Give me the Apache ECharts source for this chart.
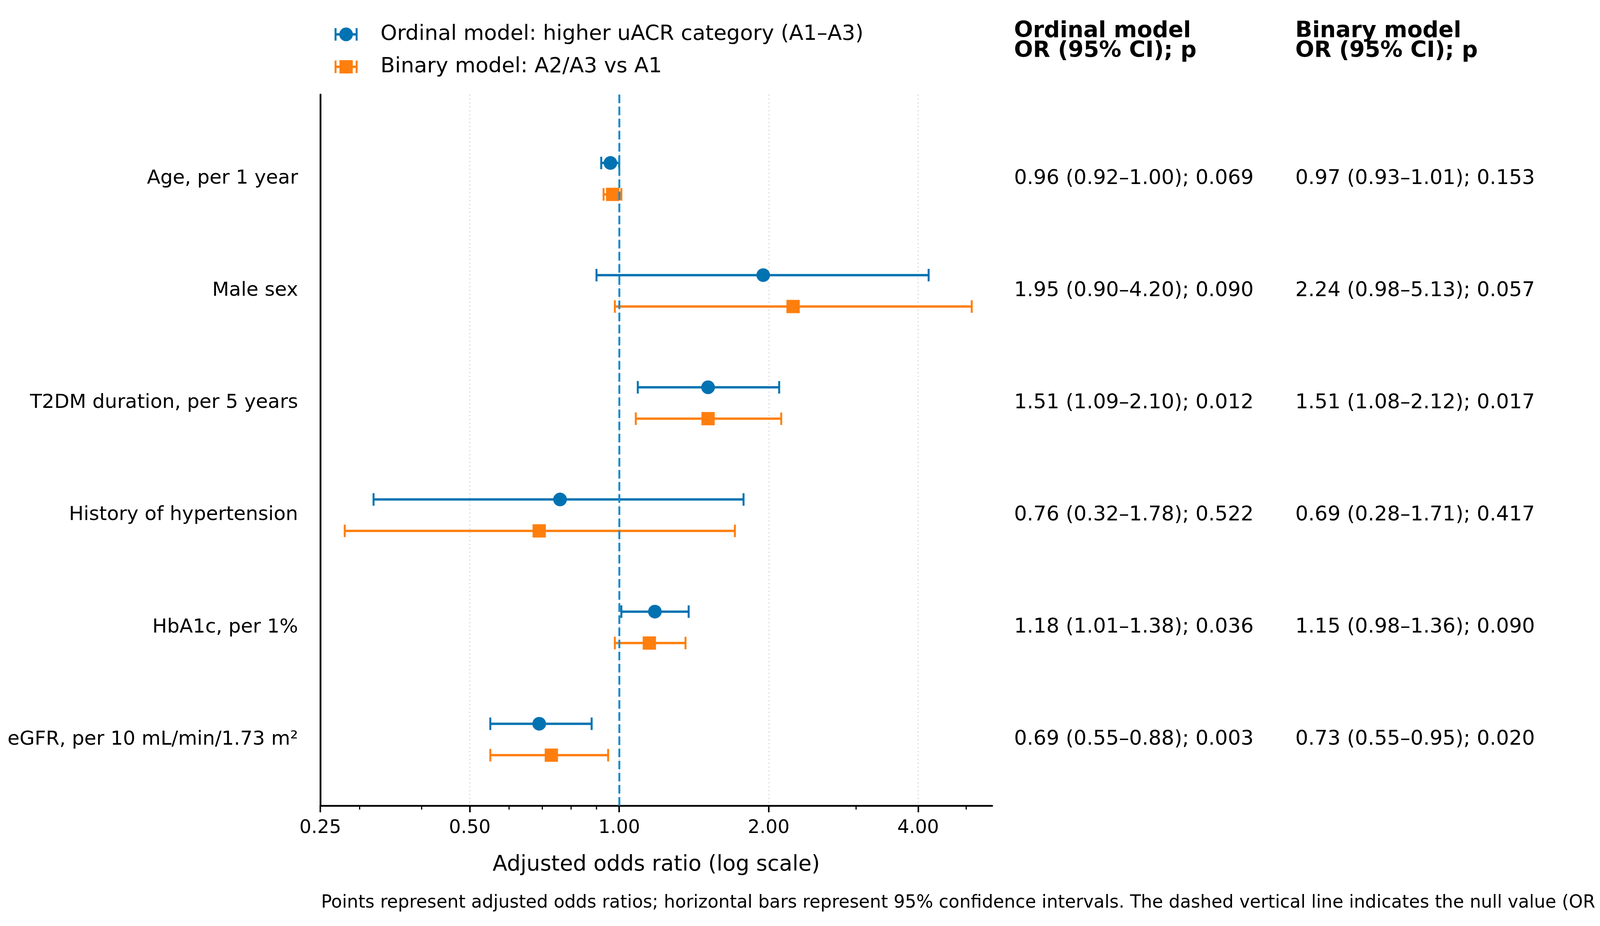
<!DOCTYPE html>
<html>
<head>
<meta charset="utf-8">
<title>Adjusted odds ratios for higher uACR category</title>
<script src="https://cdn.jsdelivr.net/npm/echarts@6/dist/echarts.min.js"></script>
<style>
html, body { margin: 0; padding: 0; background: #fff; }
#chart { width: 4320px; height: 2370px; }
</style>
</head>
<body>
<div id="chart"></div>
<script>
// rows, top to bottom
var categories = ['Age, per 1 year', 'Male sex', 'T2DM duration, per 5 years',
	'History of hypertension', 'HbA1c, per 1%', 'eGFR, per 10 mL/min/1.73 m²'];

var ordinalOR = [0.96, 1.95, 1.51, 0.76, 1.18, 0.69];
var ordinalLow = [0.92, 0.90, 1.09, 0.32, 1.01, 0.55];
var ordinalHigh = [1.00, 4.20, 2.10, 1.78, 1.38, 0.88];
var ordinalP = [0.069, 0.090, 0.012, 0.522, 0.036, 0.003];

var binaryOR = [0.97, 2.24, 1.51, 0.69, 1.15, 0.73];
var binaryLow = [0.93, 0.98, 1.08, 0.28, 0.98, 0.55];
var binaryHigh = [1.01, 5.13, 2.12, 1.71, 1.36, 0.95];
var binaryP = [0.153, 0.057, 0.017, 0.417, 0.090, 0.020];

var majorTicks = [0.25, 0.5, 1, 2, 4];
var minorTicks = [0.3, 0.4, 0.6, 0.7, 0.8, 0.9, 3, 5];
var nullValue = 1;

var BLUE = '#0072B2';
var ORANGE = '#FF7F0E';
var FONT = 'DejaVu Sans';
var Y_MIN = -0.75, Y_MAX = 5.59;

function fmtRow(or, lo, hi, p) {
	return or.toFixed(2) + ' (' + lo.toFixed(2) + '–' + hi.toFixed(2) + '); ' + p.toFixed(3);
}

function buildData(or, lo, hi) {
	var out = [];
	for (var i = 0; i < or.length; i++) {
		out.push([or[i], lo[i], hi[i], i]);
	}
	return out;
}

function errorBarItem(offset, marker, color) {
	return function (params, api) {
		var row = api.value(3) + offset;
		var lo = api.coord([api.value(1), row]);
		var hi = api.coord([api.value(2), row]);
		var mid = api.coord([api.value(0), row]);
		var capH = 16;
		var kids = [
			{ type: 'line', shape: { x1: lo[0], y1: lo[1], x2: hi[0], y2: hi[1] }, style: { stroke: color, lineWidth: 6 } },
			{ type: 'line', shape: { x1: lo[0], y1: lo[1] - capH, x2: lo[0], y2: lo[1] + capH }, style: { stroke: color, lineWidth: 5 } },
			{ type: 'line', shape: { x1: hi[0], y1: hi[1] - capH, x2: hi[0], y2: hi[1] + capH }, style: { stroke: color, lineWidth: 5 } }
		];
		if (marker === 'circle') {
			kids.push({ type: 'circle', shape: { cx: mid[0], cy: mid[1], r: 17.5 }, style: { fill: color } });
		} else {
			kids.push({ type: 'rect', shape: { x: mid[0] - 17, y: mid[1] - 17, width: 34, height: 34 }, style: { fill: color } });
		}
		return { type: 'group', children: kids };
	};
}

function legendEntry(y, marker, color, label) {
	var kids = [
		{ type: 'line', shape: { x1: 857, y1: y, x2: 915, y2: y }, style: { stroke: color, lineWidth: 6 } },
		{ type: 'line', shape: { x1: 859, y1: y - 16, x2: 859, y2: y + 16 }, style: { stroke: color, lineWidth: 5 } },
		{ type: 'line', shape: { x1: 913, y1: y - 16, x2: 913, y2: y + 16 }, style: { stroke: color, lineWidth: 5 } }
	];
	if (marker === 'circle') {
		kids.push({ type: 'circle', shape: { cx: 886, cy: y, r: 17.5 }, style: { fill: color } });
	} else {
		kids.push({ type: 'rect', shape: { x: 869, y: y - 17, width: 34, height: 34 }, style: { fill: color } });
	}
	kids.push({ type: 'text', x: 974, y: y, style: { text: label, font: '54px "' + FONT + '"', fill: '#000', verticalAlign: 'middle' } });
	return { type: 'group', children: kids };
}

var myChart = echarts.init(document.getElementById('chart'));

var option = {
	backgroundColor: '#fff',
	animation: false,
	textStyle: { fontFamily: FONT },
	grid: { left: 820, right: 1780, top: 242, bottom: 308, containLabel: false, outerBoundsMode: 'none' },
	xAxis: {
		type: 'log',
		logBase: 2,
		min: 0.25,
		max: 5.64,
		name: 'Adjusted odds ratio (log scale)',
		nameLocation: 'middle',
		nameGap: 124,
		nameTextStyle: { fontSize: 55, color: '#000', fontFamily: FONT },
		axisLine: { show: true, onZero: false, lineStyle: { color: '#000', width: 4.5 } },
		axisTick: { show: true, customValues: majorTicks, length: 17, lineStyle: { color: '#000', width: 4 } },
		axisLabel: {
			customValues: majorTicks,
			margin: 34,
			fontSize: 48,
			color: '#000',
			fontFamily: FONT,
			formatter: function (v) { return Number(v).toFixed(2); }
		},
		splitLine: { show: true, lineStyle: { color: '#d9d9d9', width: 3, type: [3, 7] } }
	},
	yAxis: {
		type: 'value',
		inverse: true,
		min: Y_MIN,
		max: Y_MAX,
		axisLine: { show: true, onZero: false, lineStyle: { color: '#000', width: 4.5 } },
		axisTick: { show: false },
		splitLine: { show: false },
		axisLabel: {
			customValues: [0, 1, 2, 3, 4, 5],
			margin: 57,
			fontSize: 50,
			color: '#000',
			fontFamily: FONT,
			formatter: function (v) { return categories[Math.round(v)] || ''; }
		}
	},
	graphic: [
		legendEntry(88, 'circle', BLUE, 'Ordinal model: higher uACR category (A1–A3)'),
		legendEntry(171, 'square', ORANGE, 'Binary model: A2/A3 vs A1'),
		{ type: 'text', x: 2596, y: 80, style: { text: 'Ordinal model', font: 'bold 57px "' + FONT + '"', fill: '#000', verticalAlign: 'middle' } },
		{ type: 'text', x: 2596, y: 131, style: { text: 'OR (95% CI); p', font: 'bold 57px "' + FONT + '"', fill: '#000', verticalAlign: 'middle' } },
		{ type: 'text', x: 3316, y: 80, style: { text: 'Binary model', font: 'bold 57px "' + FONT + '"', fill: '#000', verticalAlign: 'middle' } },
		{ type: 'text', x: 3316, y: 131, style: { text: 'OR (95% CI); p', font: 'bold 57px "' + FONT + '"', fill: '#000', verticalAlign: 'middle' } },
		{ type: 'text', x: 822, y: 2311, style: {
			text: 'Points represent adjusted odds ratios; horizontal bars represent 95% confidence intervals. The dashed vertical line indicates the null value (OR = 1).',
			font: '45.5px "' + FONT + '"', fill: '#000', verticalAlign: 'middle' } }
	],
	series: [
		{
			name: 'Ordinal model: higher uACR category (A1–A3)',
			type: 'custom',
			clip: false,
			renderItem: errorBarItem(-0.14, 'circle', BLUE),
			encode: { x: [0, 1, 2], y: 3 },
			data: buildData(ordinalOR, ordinalLow, ordinalHigh),
			z: 3,
			markLine: {
				silent: true,
				symbol: 'none',
				label: { show: false },
				lineStyle: { color: '#1a8ccc', width: 5, type: [22, 9] },
				data: [{ xAxis: nullValue }]
			}
		},
		{
			name: 'Binary model: A2/A3 vs A1',
			type: 'custom',
			clip: false,
			renderItem: errorBarItem(0.14, 'square', ORANGE),
			encode: { x: [0, 1, 2], y: 3 },
			data: buildData(binaryOR, binaryLow, binaryHigh),
			z: 3
		},
		{
			// minor ticks of the log axis
			name: 'minor ticks',
			type: 'custom',
			clip: false,
			silent: true,
			renderItem: function (params, api) {
				var p = api.coord([api.value(0), Y_MAX]);
				return { type: 'line', shape: { x1: p[0], y1: p[1], x2: p[0], y2: p[1] + 10 }, style: { stroke: '#000', lineWidth: 3 } };
			},
			encode: { x: 0, y: 1 },
			data: minorTicks.map(function (v) { return [v, Y_MAX]; })
		},
		{
			// OR (95% CI); p columns
			name: 'table',
			type: 'custom',
			clip: false,
			silent: true,
			renderItem: function (params, api) {
				var i = api.value(1);
				var y = api.coord([nullValue, i])[1];
				var font = '52px "' + FONT + '"';
				return {
					type: 'group',
					children: [
						{ type: 'text', x: 2596, y: y, style: { text: fmtRow(ordinalOR[i], ordinalLow[i], ordinalHigh[i], ordinalP[i]), font: font, fill: '#000', verticalAlign: 'middle' } },
						{ type: 'text', x: 3316, y: y, style: { text: fmtRow(binaryOR[i], binaryLow[i], binaryHigh[i], binaryP[i]), font: font, fill: '#000', verticalAlign: 'middle' } }
					]
				};
			},
			encode: { x: 0, y: 1 },
			data: categories.map(function (c, i) { return [nullValue, i]; })
		}
	]
};
myChart.setOption(option);
</script>
</body>
</html>
